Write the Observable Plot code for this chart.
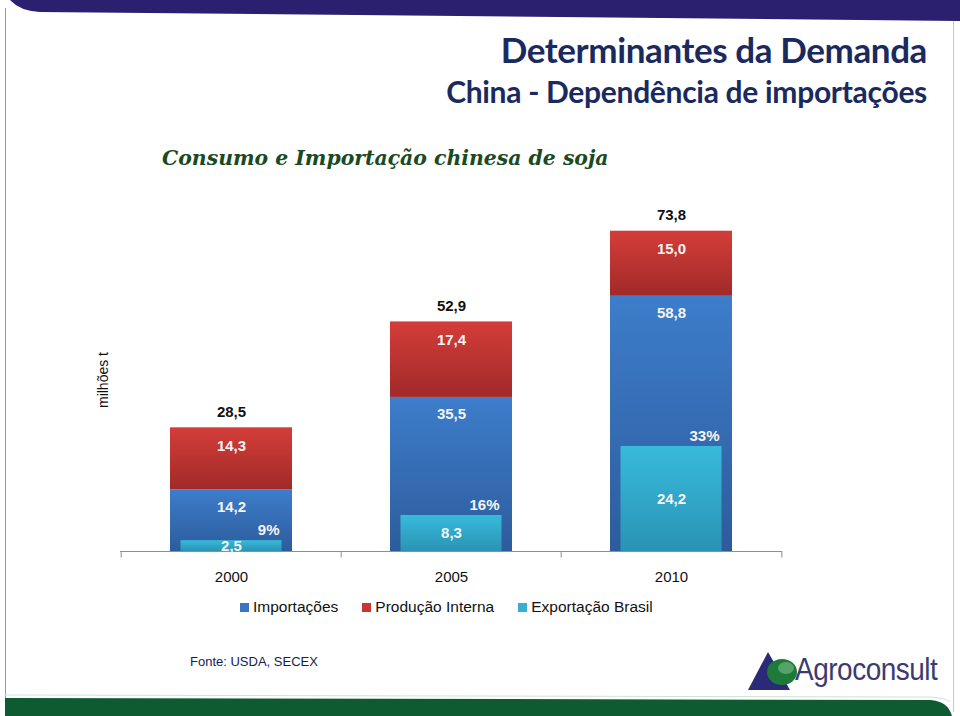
<!DOCTYPE html>
<html>
<head>
<meta charset="utf-8">
<script src="https://cdn.jsdelivr.net/npm/d3@7"></script>
<script src="https://cdn.jsdelivr.net/npm/@observablehq/plot@0.6"></script>
<style>
  html, body { margin: 0; padding: 0; background: #fff; }
  #page { position: relative; width: 960px; height: 716px; overflow: hidden; background: #fff; font-family: "Liberation Sans", Arial, sans-serif; }
  .abs { position: absolute; }
  #title { right: 33px; top: 28px; font-family: Lato, "Open Sans", sans-serif; font-weight: 700; font-size: 35px; color: #1b2a5e; white-space: nowrap; letter-spacing: -0.4px; }
  #subtitle { right: 33px; top: 73px; font-family: Lato, "Open Sans", sans-serif; font-weight: 700; font-size: 30px; color: #1b2a5e; white-space: nowrap; letter-spacing: -0.3px; }
  #chartTitle { left: 162px; top: 146px; font-family: "DejaVu Serif", "Liberation Serif", serif; font-weight: 700; font-style: italic; font-size: 20.4px; color: #1a4a22; white-space: nowrap; }
  #ylabel { left: 103px; top: 380px; transform: translate(-50%, -50%) rotate(-90deg); font-size: 14px; color: #111; white-space: nowrap; }
  #chart { left: 0; top: 190px; }
  #legend { left: 240px; top: 598px; display: flex; gap: 24px; font-size: 15.5px; color: #111; white-space: nowrap; }
  #legend .item { display: flex; align-items: center; gap: 4px; }
  #legend .sw { width: 9px; height: 9px; display: inline-block; }
  #fonte { left: 190px; top: 654px; font-size: 13px; color: #1a1a50; white-space: nowrap; }
  #logoText { left: 795px; top: 652px; font-size: 31px; color: #3b3b70; letter-spacing: -0.5px; white-space: nowrap; transform: scaleX(0.9); transform-origin: left center; }
</style>
</head>
<body>
<div id="page">
  <svg class="abs" style="left:0;top:0" width="960" height="716">
    <line x1="5.5" y1="8" x2="5.5" y2="700" stroke="#9a9a9a" stroke-width="1"/>
    <line x1="953.5" y1="20" x2="953.5" y2="712" stroke="#c8c8c8" stroke-width="1"/>
    <path d="M10,0 L960,0 L960,21 L40,12 Q20,11 10,0 Z" fill="#2b1f70"/>
    <path d="M5,698 L930,700 Q948,701 952,716 L5,716 Z" fill="#0e5b31"/>
    <path d="M5,695 L930,697 Q946,698 950,702" fill="none" stroke="#cfe3d6" stroke-width="1"/>
    <polygon points="748,690 768,652 790,690" fill="#2b2a78"/>
    <ellipse cx="782" cy="672" rx="15" ry="13" fill="#1d7a3a"/>
    <ellipse cx="786" cy="668" rx="8" ry="6" fill="#6fb57d" opacity="0.7"/>
  </svg>
  <div id="title" class="abs">Determinantes da Demanda</div>
  <div id="subtitle" class="abs">China - Dependência de importações</div>
  <div id="chartTitle" class="abs">Consumo e Importação chinesa de soja</div>
  <div id="ylabel" class="abs">milhões t</div>
  <div id="chart" class="abs"></div>
  <div id="legend" class="abs"></div>
  <div id="fonte" class="abs">Fonte: USDA, SECEX</div>
  <div id="logoText" class="abs">Agroconsult</div>
</div>
<script>
// ---- data ----
const years = ["2000", "2005", "2010"];
const importacoes = [14.2, 35.5, 58.8];
const producaoInterna = [14.3, 17.4, 15.0];
const exportacaoBrasil = [2.5, 8.3, 24.2];
const totalConsumo = [28.5, 52.9, 73.8];
const shareLabels = ["9%", "16%", "33%"];
const seriesNames = ["Importações", "Produção Interna", "Exportação Brasil"];
const seriesColors = ["#3a76c4", "#c83633", "#33b0d4"];

const fmt = v => v.toFixed(1).replace(".", ",");

const rows = years.map((year, i) => ({
  year,
  imp: importacoes[i],
  prod: producaoInterna[i],
  exp: exportacaoBrasil[i],
  total: totalConsumo[i],
  top: importacoes[i] + producaoInterna[i],
  share: shareLabels[i]
}));

const step = (960 - 120 - 178) / years.length;

const labelFont = {fontFamily: "'Liberation Sans', Arial, sans-serif", fontWeight: "bold", fontSize: 15};

const chart = Plot.plot({
  width: 960,
  height: 400,
  marginLeft: 120,
  marginRight: 178,
  marginTop: 0,
  marginBottom: 39,
  style: {fontFamily: "'Liberation Sans', Arial, sans-serif", fontSize: "15px", color: "#111", background: "transparent"},
  x: {type: "band", domain: years, paddingInner: 0.447, paddingOuter: 0.2235, axis: null},
  y: {domain: [0, 361 / 4.34], axis: null},
  marks: [
    Plot.barY(rows, {x: "year", y1: 0, y2: "imp", fill: "url(#gImp)"}),
    Plot.barY(rows, {x: "year", y1: "imp", y2: "top", fill: "url(#gProd)"}),
    Plot.barY(rows, {x: "year", y1: 0, y2: "exp", fill: "url(#gExp)", insetLeft: 10.5, insetRight: 10.5}),
    Plot.ruleY([0], {stroke: "#8f8f8f", strokeWidth: 1}),
    Plot.ruleX(years, {x: d => d, y1: 0, y2: -1.5, dx: -step / 2, stroke: "#8f8f8f"}),
    Plot.ruleX([years[years.length - 1]], {x: d => d, y1: 0, y2: -1.5, dx: step / 2, stroke: "#8f8f8f"}),
    Plot.axisX({tickSize: 0, tickPadding: 20, fontSize: 15, label: null}),
    Plot.text(rows, {x: "year", y: "total", text: d => fmt(d.total), dy: -16, fill: "#111", ...labelFont}),
    Plot.text(rows, {x: "year", y: "top", text: d => fmt(d.prod), dy: 18, fill: "#f4f4f4", ...labelFont}),
    Plot.text(rows, {x: "year", y: "imp", text: d => fmt(d.imp), dy: 17, fill: "#f4f4f4", ...labelFont}),
    Plot.text(rows, {x: "year", y: d => d.exp / 2, text: d => fmt(d.exp), fill: "#f4f4f4", ...labelFont}),
    Plot.text(rows, {x: "year", y: "exp", text: "share", dy: -10, dx: 48, textAnchor: "end", fill: "#f4f4f4", ...labelFont})
  ]
});

// gradients for bar fills
const defs = d3.select(chart).insert("defs", ":first-child");
const grads = [
  ["gImp", "#3d7dcb", "#2d5c9c"],
  ["gProd", "#d43d39", "#a12a29"],
  ["gExp", "#38badb", "#2a93b4"]
];
for (const [id, c1, c2] of grads) {
  const g = defs.append("linearGradient").attr("id", id).attr("x1", 0).attr("y1", 0).attr("x2", 0).attr("y2", 1);
  g.append("stop").attr("offset", "0%").attr("stop-color", c1);
  g.append("stop").attr("offset", "100%").attr("stop-color", c2);
}
document.getElementById("chart").appendChild(chart);

// legend
const legend = document.getElementById("legend");
seriesNames.forEach((name, i) => {
  const item = document.createElement("span");
  item.className = "item";
  const sw = document.createElement("span");
  sw.className = "sw";
  sw.style.background = seriesColors[i];
  const t = document.createElement("span");
  t.textContent = name;
  item.appendChild(sw);
  item.appendChild(t);
  legend.appendChild(item);
});
</script>
</body>
</html>
